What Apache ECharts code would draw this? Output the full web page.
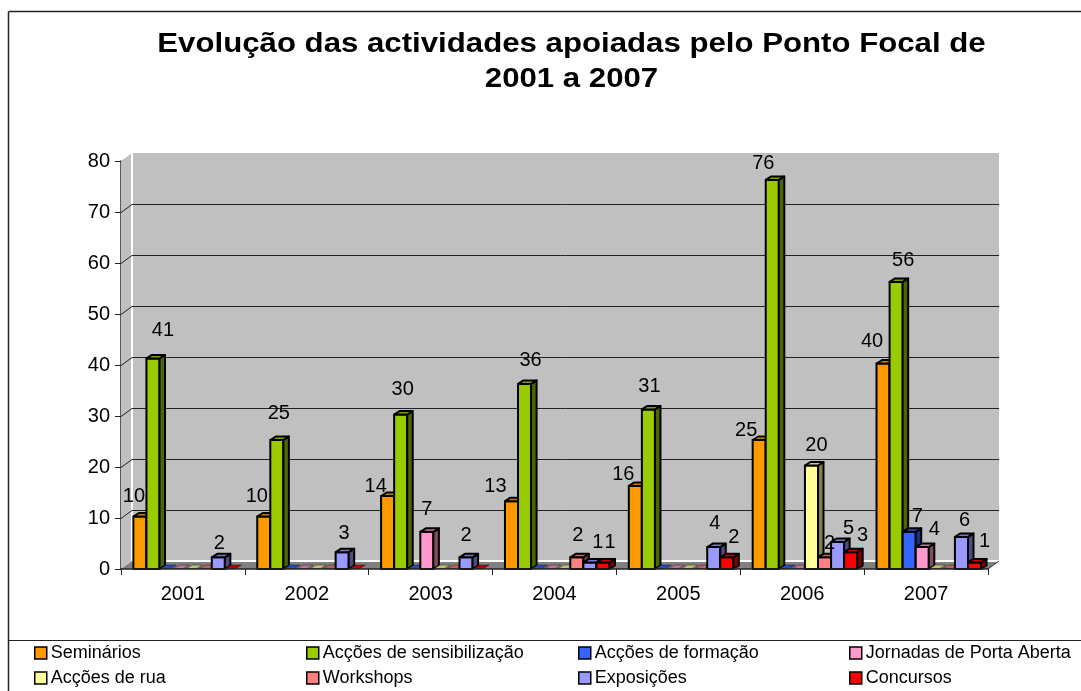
<!DOCTYPE html>
<html>
<head>
<meta charset="utf-8">
<style>
  html, body { margin: 0; padding: 0; background: #fff; }
  #chart { width: 1081px; height: 691px; }
</style>
<script src="https://cdn.jsdelivr.net/npm/echarts@6/dist/echarts.min.js"></script>
</head>
<body>
<div id="chart"></div>
<script>
const years = ["2001", "2002", "2003", "2004", "2005", "2006", "2007"];
const yTicks = [0, 10, 20, 30, 40, 50, 60, 70, 80];

const seminarios = [10, 10, 14, 13, 16, 25, 40];
const sensibilizacao = [41, 25, 30, 36, 31, 76, 56];
const formacao = [0, 0, 0, 0, 0, 0, 7];
const jornadas = [0, 0, 7, 0, 0, 0, 4];
const rua = [0, 0, 0, 0, 0, 20, 0];
const workshops = [0, 0, 0, 2, 0, 2, 0];
const exposicoes = [2, 3, 2, 1, 4, 5, 6];
const concursos = [0, 0, 0, 1, 2, 3, 1];

const names = [
  "Seminários", "Acções de sensibilização", "Acções de formação", "Jornadas de Porta Aberta",
  "Acções de rua", "Workshops", "Exposições", "Concursos"
];
const values = [seminarios, sensibilizacao, formacao, jornadas, rua, workshops, exposicoes, concursos];
const colors = ["#ff9900", "#99cc00", "#3366ff", "#ff99cc", "#ffff99", "#ff8080", "#9999ff", "#ff0000"];

// the original places its labels by hand, these are pixel nudges from the bar top
const labelNudge = [
  [[-6, -23], [-7, -23], [-12, -13], [-16, -18], [-12, -14], [-13, -13], [-11, -25]],
  [[10, -31], [2, -30], [2, -28], [6, -26], [1, -26], [-9, -19], [7, -24]],
  [null, null, null, null, null, null, [8, -18]],
  [null, null, [0, -25], null, null, null, [12, -21]],
  [null, null, null, null, null, [5, -23], null],
  [null, null, null, [1, -25], null, [5, -17], null],
  [[1, -17], [2, -22], [0, -25], [8, -23], [1, -27], [11, -17], [3, -19]],
  [null, null, null, [7, -23], [7, -23], [12, -20], [10, -24]]
];

const wallDx = 11;
const wallDy = -8;
const barDx = 5.5;
const barDy = -3.5;
const barLift = 1.5;

function shade(hex, k) {
  const n = parseInt(hex.slice(1), 16);
  const c = [(n >> 16) & 255, (n >> 8) & 255, n & 255].map(v => Math.round(v * k));
  return "rgb(" + c.join(",") + ")";
}

function poly(points, fill, width) {
  return {
    type: "polygon",
    shape: { points: points },
    style: { fill: fill, stroke: "#000", lineWidth: width, lineJoin: "round" }
  };
}

function renderWall(params, api) {
  const first = years.length - 1;
  const band = api.size([1, 0])[0];
  const left = api.coord([0, 0])[0] - band / 2;
  const right = api.coord([first, 0])[0] + band / 2;
  const y0 = api.coord([0, 0])[1];
  const yTop = api.coord([0, yTicks[yTicks.length - 1]])[1];
  const line = (x1, y1, x2, y2, stroke, w) => ({
    type: "line",
    shape: { x1: x1, y1: y1, x2: x2, y2: y2 },
    style: { stroke: stroke, lineWidth: w }
  });
  const children = [
    { type: "polygon", shape: { points: [[left, y0], [left + wallDx, y0 + wallDy], [left + wallDx, yTop + wallDy], [left, yTop]] }, style: { fill: "#c0c0c0" } },
    { type: "rect", shape: { x: left + wallDx, y: yTop + wallDy, width: right - left, height: y0 - yTop }, style: { fill: "#c0c0c0" } },
    { type: "polygon", shape: { points: [[left, y0], [right, y0], [right + wallDx, y0 + wallDy], [left + wallDx, y0 + wallDy]] }, style: { fill: "#808080" } },
    line(left + wallDx, yTop + wallDy, left + wallDx, y0 + wallDy, "#fff", 2),
    line(left + wallDx, y0 + wallDy, right + wallDx, y0 + wallDy, "#fff", 2),
    line(right, y0, right + wallDx, y0 + wallDy, "#333", 1)
  ];
  yTicks.forEach(t => {
    const y = Math.round(api.coord([0, t])[1] + wallDy) + 0.5;
    if (t > 0 && t < 80) {
      children.push(line(left + wallDx, y, right + wallDx, y, "#222", 1));
      children.push(line(left, y - wallDy, left + wallDx, y, "#222", 1));
    }
  });
  return { type: "group", children: children };
}

function renderBar(s) {
  return function (params, api) {
    const idx = api.value(0);
    const v = api.value(1);
    const band = api.size([1, 0])[0];
    const pitch = band * 0.1055;
    const base = api.coord([idx, 0]);
    const topY = api.coord([idx, v])[1] - barLift;
    const x0 = base[0] - band / 2 + band * 0.1 + s * pitch;
    const x1 = x0 + pitch;
    const color = colors[s];
    const children = [];
    if (v > 0) {
      children.push(poly([[x0, base[1]], [x1, base[1]], [x1, topY], [x0, topY]], color, 2));
      children.push(poly([[x1, base[1]], [x1 + barDx, base[1] + barDy], [x1 + barDx, topY + barDy], [x1, topY]], shade(color, 0.5), 2));
      children.push(poly([[x0, topY], [x1, topY], [x1 + barDx, topY + barDy], [x0 + barDx, topY + barDy]], shade(color, 0.8), 2));
    } else {
      // empty categories only leave a flat strip on the floor
      children.push(poly([[x0 + 1, base[1] - 0.5], [x1 - 2, base[1] - 0.5], [x1 - 2 + barDx, base[1] - 0.5 + barDy], [x0 + 1 + barDx, base[1] - 0.5 + barDy]], shade(color, 0.75), 0.4));
    }
    const nudge = labelNudge[s][idx];
    if (v > 0 && nudge) {
      children.push({
        type: "text",
        z2: 100,
        style: {
          text: String(v),
          x: (x0 + x1) / 2 + nudge[0],
          y: topY + barLift + nudge[1] + 1.5,
          align: "center",
          verticalAlign: "middle",
          fill: "#000",
          font: '20px "Liberation Sans", Arial, sans-serif'
        }
      });
    }
    return { type: "group", children: children };
  };
}

const legendCols = [34, 306, 578, 849];
const legendRows = [644, 669];

const option = {
  animation: false,
  backgroundColor: "#fff",
  textStyle: { fontFamily: '"Liberation Sans", Arial, sans-serif' },
  grid: { left: 121, right: 93, top: 161, bottom: 122 },
  xAxis: {
    type: "category",
    data: years,
    axisLine: { onZero: false, lineStyle: { color: "#222", width: 1.5 } },
    axisTick: { show: true, length: 6, lineStyle: { color: "#222" } },
    axisLabel: { fontSize: 20, color: "#000", margin: 15 },
    z: 5
  },
  yAxis: {
    type: "value",
    min: 0,
    max: 80,
    interval: 10,
    axisLine: { show: true, lineStyle: { color: "#222", width: 1.5 } },
    axisTick: { show: true, length: 6, lineStyle: { color: "#222" } },
    axisLabel: { fontSize: 20, color: "#000", margin: 11 },
    splitLine: { show: false }
  },
  legend: names.map((name, i) => ({
    data: [name],
    left: legendCols[i % 4],
    top: legendRows[Math.floor(i / 4)],
    padding: 0,
    itemWidth: 12,
    itemHeight: 12,
    icon: "rect",
    itemGap: 0,
    selectedMode: false,
    itemStyle: { borderColor: "#000", borderWidth: 1.5 },
    textStyle: { fontSize: 18, color: "#000", padding: [0, 0, 0, -1] }
  })),
  graphic: [
    { type: "line", silent: true, shape: { x1: 8.5, y1: 11.5, x2: 1081, y2: 11.5 }, style: { stroke: "#222", lineWidth: 1.5 } },
    { type: "line", silent: true, shape: { x1: 8.5, y1: 11.5, x2: 8.5, y2: 691 }, style: { stroke: "#222", lineWidth: 1.5 } },
    { type: "line", silent: true, shape: { x1: 8.5, y1: 640.5, x2: 1081, y2: 640.5 }, style: { stroke: "#222", lineWidth: 1.2 } },
    {
      type: "text", silent: true, x: 571.5, y: 45, scaleX: 1.155,
      style: { text: "Evolução das actividades apoiadas pelo Ponto Focal de", align: "center", verticalAlign: "middle", fill: "#000", font: 'bold 27px "Liberation Sans", Arial, sans-serif' }
    },
    {
      type: "text", silent: true, x: 571.5, y: 80, scaleX: 1.155,
      style: { text: "2001 a 2007", align: "center", verticalAlign: "middle", fill: "#000", font: 'bold 27px "Liberation Sans", Arial, sans-serif' }
    }
  ],
  series: [
    {
      type: "custom",
      name: "wall",
      silent: true,
      z: 1,
      renderItem: renderWall,
      data: [[0, 0]]
    }
  ].concat(names.map((name, s) => ({
    type: "custom",
    name: name,
    z: 2,
    renderItem: renderBar(s),
    itemStyle: { color: colors[s] },
    encode: { x: 0, y: 1 },
    data: values[s].map((v, i) => [i, v])
  })))
};

const chart = echarts.init(document.getElementById("chart"));
chart.setOption(option);
</script>
</body>
</html>
